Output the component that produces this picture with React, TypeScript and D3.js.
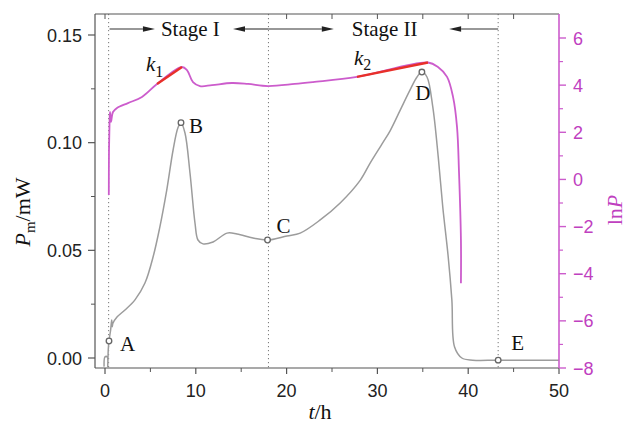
import React from 'react';
import * as d3 from 'd3';

const W = 627;
const H = 423;
const LEFT = 95;
const RIGHT = 559;
const TOP = 14;
const BOTTOM = 368;

// P_m (mW) vs t (h), grey curve
const pmTime = [-0.1, 0.0, 0.25, 0.3, 0.36, 0.44, 0.62, 0.74, 0.8, 0.86, 1.32, 2.2, 3.3, 4.4, 5.3, 6.0, 6.8, 7.5, 8.04, 8.37, 8.81, 9.36, 9.91, 10.24, 10.79, 11.9, 13.44, 14.54, 16.3, 17.9, 20.04, 21.5, 23.7, 25.9, 28.1, 29.2, 30.6, 31.4, 32.5, 33.6, 34.36, 34.9, 35.46, 36.1, 36.7, 37.2, 37.8, 38.2, 38.5, 39.3, 40.5, 43.3, 50];
const pmValue = [-0.004, 0.0005, 0.0005, -0.004, 0.004, 0.0079, 0.013, 0.0176, 0.0145, 0.016, 0.019, 0.0223, 0.027, 0.0348, 0.047, 0.06, 0.078, 0.0966, 0.107, 0.1093, 0.1045, 0.0859, 0.0627, 0.0548, 0.053, 0.0539, 0.058, 0.0576, 0.0557, 0.0548, 0.0567, 0.058, 0.0641, 0.072, 0.0825, 0.0905, 0.1, 0.1055, 0.115, 0.1245, 0.1305, 0.1328, 0.1305, 0.1166, 0.0934, 0.0701, 0.0469, 0.027, 0.0051, 0.0, -0.001, -0.001, -0.001];

// ln P vs t, magenta curve
const lnTime = [0.42, 0.44, 0.5, 0.55, 0.66, 0.88, 1.32, 2.53, 4.07, 5.73, 8.48, 9.03, 9.69, 10.46, 11.78, 13.99, 15.75, 17.95, 20.9, 22.9, 27.75, 35.57, 36.67, 37.67, 38.33, 38.77, 38.99, 39.2, 39.2];
const lnValue = [-0.66, 1.25, 2.4, 2.86, 2.44, 2.86, 3.03, 3.24, 3.5, 4.05, 4.77, 4.64, 4.13, 3.96, 4.0, 4.09, 4.05, 3.96, 4.05, 4.13, 4.35, 4.96, 4.77, 4.35, 3.5, 2.22, 0.27, -2.57, -4.4];

// fitted slopes (red)
const k1Time = [5.73, 8.48];
const k1Value = [4.05, 4.77];
const k2Time = [27.75, 35.57];
const k2Value = [4.35, 4.96];

const pointLabels = ['A', 'B', 'C', 'D', 'E'];
const pointTime = [0.44, 8.37, 17.9, 34.9, 43.3];
const pointValue = [0.0079, 0.1093, 0.0548, 0.1328, -0.001];

const stageLines = [0.4, 18.0, 43.3];

const xTicks = [0, 10, 20, 30, 40, 50];
const xMinor = [5, 15, 25, 35, 45];
const topTicks = [0, 20, 25, 30, 35, 40, 45];
const leftTicks = [0, 0.05, 0.1, 0.15];
const leftMinor = [0.025, 0.075, 0.125];
const rightTicks = [-8, -6, -4, -2, 0, 2, 4, 6];
const rightMinor = [-7, -5, -3, -1, 1, 3, 5];

const AXIS = '#555';
const GREY = '#9c9c9c';
const MAGENTA = '#cc5ccc';
const MAG_TEXT = '#bf40bf';
const RED = '#e8302a';
const SANS = '"Liberation Sans", Arial, sans-serif';
const SERIF = '"Liberation Serif", "Times New Roman", serif';

const fmtRight = (v: number) => (v < 0 ? `\u2212${Math.abs(v)}` : String(v));

export default function App() {
  const x = d3.scaleLinear().domain([0, 50]).range([105, RIGHT]);
  const yL = d3.scaleLinear().domain([0, 0.15]).range([358, 35]);
  const yR = d3.scaleLinear().domain([-8, 6]).range([BOTTOM, 38]);

  const pmLine = d3
    .line<number>()
    .x((_, i) => x(pmTime[i]))
    .y((d) => yL(d))
    .curve(d3.curveCatmullRom.alpha(0.5));
  const lnLine = d3
    .line<number>()
    .x((_, i) => x(lnTime[i]))
    .y((d) => yR(d))
    .curve(d3.curveCatmullRom.alpha(0.5));

  const arrow = (from: number, to: number, yy: number) => {
    const x1 = x(from);
    const x2 = x(to);
    const dir = x2 > x1 ? 1 : -1;
    const head = 12;
    return (
      <g key={`${from}-${to}`}>
        <line x1={x1} x2={x2 - dir * head} y1={yy} y2={yy} stroke="#333" strokeWidth={1.1} />
        <path
          d={`M${x2},${yy} L${x2 - dir * head},${yy - 2.8} L${x2 - dir * head},${yy + 2.8} Z`}
          fill="#222"
        />
      </g>
    );
  };

  const labelOffset: Record<string, [number, number, string]> = {
    A: [11, 10, 'start'],
    B: [8, 10, 'start'],
    C: [9, -7, 'start'],
    D: [1, 28, 'middle'],
    E: [13, -10, 'start'],
  };

  return (
    <svg
      width={W}
      height={H}
      viewBox={`0 0 ${W} ${H}`}
      style={{ position: 'absolute', left: 0, top: 0, background: '#fff' }}
    >
      {/* dotted stage boundaries */}
      {stageLines.map((t) => (
        <line
          key={`s-${t}`}
          x1={x(t)}
          x2={x(t)}
          y1={TOP}
          y2={BOTTOM}
          stroke="#777"
          strokeWidth={1}
          strokeDasharray="1.2 2.8"
        />
      ))}

      {/* curves */}
      <path d={pmLine(pmValue) ?? ''} fill="none" stroke={GREY} strokeWidth={1.5} />
      <path d={lnLine(lnValue) ?? ''} fill="none" stroke={MAGENTA} strokeWidth={1.8} />
      <line x1={x(k1Time[0])} x2={x(k1Time[1])} y1={yR(k1Value[0])} y2={yR(k1Value[1])} stroke={RED} strokeWidth={2.4} />
      <line x1={x(k2Time[0])} x2={x(k2Time[1])} y1={yR(k2Value[0])} y2={yR(k2Value[1])} stroke={RED} strokeWidth={2.4} />

      {/* marked points */}
      {pointLabels.map((lab, i) => {
        const cx = x(pointTime[i]);
        const cy = yL(pointValue[i]);
        const [dx, dy, anchor] = labelOffset[lab];
        return (
          <g key={lab}>
            <circle cx={cx} cy={cy} r={2.8} fill="#fff" stroke="#666" strokeWidth={1.3} />
            <text x={cx + dx} y={cy + dy} fontFamily={SERIF} fontSize={21} textAnchor={anchor} fill="#111">
              {lab}
            </text>
          </g>
        );
      })}

      {/* k labels */}
      <text x={146} y={71} fontFamily={SERIF} fontSize={21} fill="#111">
        <tspan fontStyle="italic">k</tspan>
        <tspan fontSize={16} dy={6}>1</tspan>
      </text>
      <text x={354} y={65} fontFamily={SERIF} fontSize={21} fill="#111">
        <tspan fontStyle="italic">k</tspan>
        <tspan fontSize={16} dy={5}>2</tspan>
      </text>

      {/* frame */}
      <line x1={LEFT} x2={RIGHT} y1={TOP} y2={TOP} stroke={AXIS} strokeWidth={1.2} />
      <line x1={LEFT} x2={RIGHT} y1={BOTTOM} y2={BOTTOM} stroke={AXIS} strokeWidth={1.2} />
      <line x1={LEFT} x2={LEFT} y1={TOP} y2={BOTTOM} stroke={AXIS} strokeWidth={1.2} />
      <line x1={RIGHT} x2={RIGHT} y1={TOP} y2={BOTTOM} stroke={MAGENTA} strokeWidth={1.6} />

      {/* stage annotations */}
      {arrow(0.5, 5.5, 29)}
      {arrow(18, 14.1, 29)}
      {arrow(18, 25.2, 29)}
      {arrow(43.3, 37.9, 29)}
      <text x={x(9.4)} y={36} fontFamily={SERIF} fontSize={21} textAnchor="middle" fill="#111">
        Stage I
      </text>
      <text x={x(30.8)} y={36} fontFamily={SERIF} fontSize={21} textAnchor="middle" fill="#111">
        Stage II
      </text>

      {/* top ticks (inward) */}
      {topTicks.map((t) => (
        <line key={`tt-${t}`} x1={x(t)} x2={x(t)} y1={TOP} y2={TOP + 5} stroke={AXIS} strokeWidth={1} />
      ))}

      {/* bottom axis */}
      {xTicks.map((t) => (
        <g key={`x-${t}`}>
          <line x1={x(t)} x2={x(t)} y1={BOTTOM} y2={BOTTOM + 6} stroke={AXIS} strokeWidth={1.2} />
          <text x={x(t)} y={397} fontFamily={SANS} fontSize={18} textAnchor="middle" fill="#222">
            {t}
          </text>
        </g>
      ))}
      {xMinor.map((t) => (
        <line key={`xm-${t}`} x1={x(t)} x2={x(t)} y1={BOTTOM} y2={BOTTOM + 4} stroke={AXIS} strokeWidth={1} />
      ))}
      <text x={320} y={419} fontFamily={SERIF} fontSize={22} textAnchor="middle" fill="#111">
        <tspan fontStyle="italic">t</tspan>/h
      </text>

      {/* left axis */}
      {leftTicks.map((v) => (
        <g key={`l-${v}`}>
          <line x1={LEFT - 7} x2={LEFT} y1={yL(v)} y2={yL(v)} stroke={AXIS} strokeWidth={1.2} />
          <text x={82} y={yL(v) + 6.5} fontFamily={SANS} fontSize={18} textAnchor="end" fill="#222">
            {v.toFixed(2)}
          </text>
        </g>
      ))}
      {leftMinor.map((v) => (
        <line key={`lm-${v}`} x1={LEFT - 4} x2={LEFT} y1={yL(v)} y2={yL(v)} stroke={AXIS} strokeWidth={1} />
      ))}
      <text
        transform="translate(30,212) rotate(-90)"
        fontFamily={SERIF}
        fontSize={22}
        textAnchor="middle"
        fill="#111"
      >
        <tspan fontStyle="italic">P</tspan>
        <tspan fontSize={15} dy={5}>m</tspan>
        <tspan dy={-5}>/mW</tspan>
      </text>

      {/* right axis */}
      {rightTicks.map((v) => (
        <g key={`r-${v}`}>
          <line x1={RIGHT} x2={RIGHT + 7} y1={yR(v)} y2={yR(v)} stroke={MAGENTA} strokeWidth={1.4} />
          <text x={573} y={yR(v) + 6.5} fontFamily={SANS} fontSize={18} fill={MAG_TEXT}>
            {fmtRight(v)}
          </text>
        </g>
      ))}
      {rightMinor.map((v) => (
        <line key={`rm-${v}`} x1={RIGHT} x2={RIGHT + 4} y1={yR(v)} y2={yR(v)} stroke={MAGENTA} strokeWidth={1.2} />
      ))}
      <text
        transform="translate(622,210) rotate(-90)"
        fontFamily={SERIF}
        fontSize={22}
        textAnchor="middle"
        fill={MAG_TEXT}
      >
        ln<tspan fontStyle="italic">P</tspan>
      </text>
    </svg>
  );
}
